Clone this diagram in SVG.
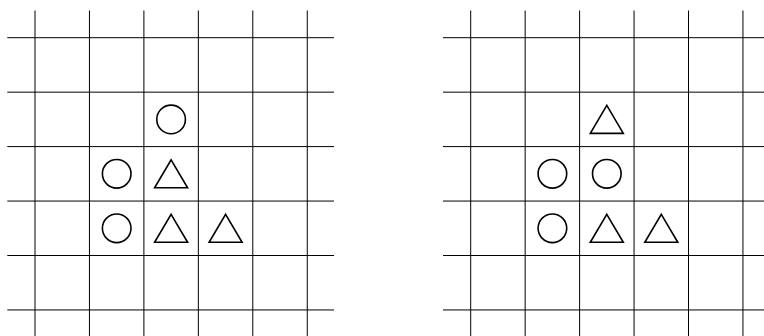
<svg xmlns="http://www.w3.org/2000/svg" xmlns:xlink="http://www.w3.org/1999/xlink" width="764" height="336" viewBox="0 0 764 336">
<style>
.grid line{stroke:#000;stroke-width:1;}
.mark{fill:none;stroke:#000;stroke-width:1.6;stroke-linejoin:miter;}
</style>
<defs>
<circle id="o" class="mark" cx="0" cy="0" r="14.3"/>
<path id="t" class="mark" d="M0,-14 L16.5,14 L-16.5,14 Z"/>
<g id="grid" class="grid">
<line x1="0" y1="10.5" x2="0" y2="336"/>
<line x1="54.45" y1="10.5" x2="54.45" y2="336"/>
<line x1="108.9" y1="10.5" x2="108.9" y2="336"/>
<line x1="163.35" y1="10.5" x2="163.35" y2="336"/>
<line x1="217.8" y1="10.5" x2="217.8" y2="336"/>
<line x1="272.25" y1="10.5" x2="272.25" y2="336"/>
<line x1="-27.7" y1="37.7" x2="299" y2="37.7"/>
<line x1="-27.7" y1="92.15" x2="299" y2="92.15"/>
<line x1="-27.7" y1="146.6" x2="299" y2="146.6"/>
<line x1="-27.7" y1="201.05" x2="299" y2="201.05"/>
<line x1="-27.7" y1="255.5" x2="299" y2="255.5"/>
<line x1="-27.7" y1="309.95" x2="299" y2="309.95"/>
</g>
</defs>
<g id="left-board" transform="translate(35,0)">
<use xlink:href="#grid"/>
<g id="left-pieces">
<use xlink:href="#o" x="136.1" y="119.4"/>
<use xlink:href="#o" x="81.7" y="173.8"/>
<use xlink:href="#t" x="136.1" y="173.8"/>
<use xlink:href="#o" x="81.7" y="228.3"/>
<use xlink:href="#t" x="136.1" y="228.3"/>
<use xlink:href="#t" x="190.6" y="228.3"/>
</g>
</g>
<g id="right-board" transform="translate(470.7,0)">
<use xlink:href="#grid"/>
<g id="right-pieces">
<use xlink:href="#t" x="136.1" y="119.4"/>
<use xlink:href="#o" x="81.7" y="173.8"/>
<use xlink:href="#o" x="136.1" y="173.8"/>
<use xlink:href="#o" x="81.7" y="228.3"/>
<use xlink:href="#t" x="136.1" y="228.3"/>
<use xlink:href="#t" x="190.6" y="228.3"/>
</g>
</g>
</svg>
